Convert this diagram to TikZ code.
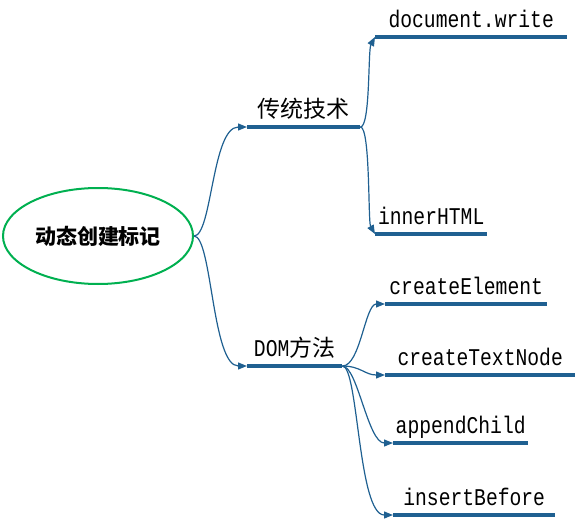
\documentclass[tikz,border=0pt]{standalone}
\usepackage{fontspec}
\setmainfont{Liberation Mono}[FakeStretch=0.82]
\newfontfamily\cjk{Noto Sans CJK SC}
\usetikzlibrary{shapes.geometric,arrows.meta}
\definecolor{linkblue}{RGB}{31,96,145}
\definecolor{rootgreen}{RGB}{0,176,80}
\newcommand\zh[1]{{\cjk\fontsize{23}{26}\selectfont #1}}
\begin{document}
\begin{tikzpicture}[x=1pt, y=-1pt,
  leaf/.style={anchor=south west, minimum width=#1, inner xsep=0pt, inner ysep=4pt, text height=17pt, text depth=5pt, font=\fontsize{24}{26}\selectfont},
  link/.style={linkblue, line width=1.2pt, -{Triangle[length=9pt,width=7pt]}},
  bar/.style={linkblue, line width=3.5pt}]
\useasboundingbox (0,0) rectangle (579,522);
\node [ellipse, draw=rootgreen, line width=2pt, minimum width=190, minimum height=96, inner sep=0pt, font=\cjk\bfseries\fontsize{21}{24}\selectfont] (root) at (98,236) {动态创建标记};
\node [leaf=113] (trad) at (247,127) {\zh{传统技术}};
\node [leaf=95] (dom) at (247,366) {DOM\zh{方法}};
\node [leaf=192] (write) at (375,37) {document.write};
\node [leaf=112] (inner) at (375,234) {innerHTML};
\node [leaf=162] (elem) at (385,304) {createElement};
\node [leaf=190] (textnode) at (385,375) {createTextNode};
\node [leaf=135] (append) at (393,443) {appendChild};
\node [leaf=162] (insert) at (393,515) {insertBefore};
\foreach \n in {trad,dom,write,inner,elem,textnode,append,insert}
  \draw [bar] (\n.south west) -- (\n.south east);
\draw [link] (root.east) .. controls +(18,0) and +(-35,0) .. (trad.south west);
\draw [link] (root.east) .. controls +(18,0) and +(-35,0) .. (dom.south west);
\draw [link] (trad.south east) .. controls +(10,0) and +(-7,13) .. (write.south west);
\draw [link] (trad.south east) .. controls +(10,0) and +(-7,-12) .. (inner.south west);
\draw [link] (dom.south east) .. controls +(18,0) and +(-20,0) .. (elem.south west);
\draw [link] (dom.south east) .. controls +(18,0) and +(-20,0) .. (textnode.south west);
\draw [link] (dom.south east) .. controls +(15,0) and +(-25,0) .. (append.south west);
\draw [link] (dom.south east) .. controls +(16,0) and +(-35,0) .. (insert.south west);
\end{tikzpicture}
\end{document}
